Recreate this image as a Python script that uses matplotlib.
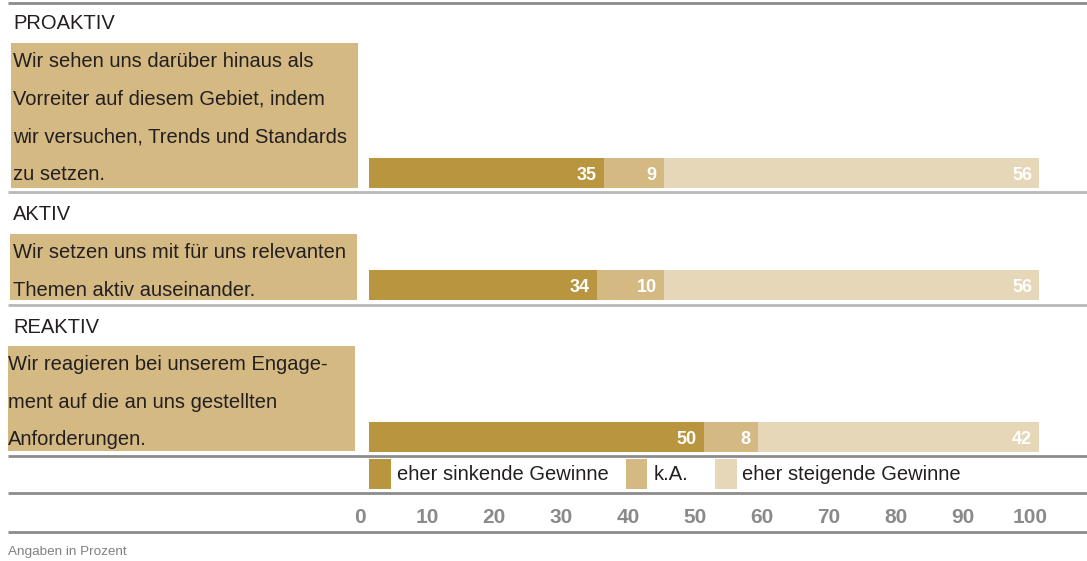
import matplotlib.pyplot as plt
from matplotlib.patches import Rectangle

plt.rcParams["font.family"] = ["Liberation Sans", "DejaVu Sans"]

gruppen = ["PROAKTIV", "AKTIV", "REAKTIV"]
aussagen = [
    ["Wir sehen uns darüber hinaus als",
     "Vorreiter auf diesem Gebiet, indem",
     "wir versuchen, Trends und Standards",
     "zu setzen."],
    ["Wir setzen uns mit für uns relevanten",
     "Themen aktiv auseinander."],
    ["Wir reagieren bei unserem Engage-",
     "ment auf die an uns gestellten",
     "Anforderungen."],
]
sinkend = [35, 34, 50]
keine_angabe = [9, 10, 8]
steigend = [56, 56, 42]
legende = ["eher sinkende Gewinne", "k.A.", "eher steigende Gewinne"]
ticks = [0, 10, 20, 30, 40, 50, 60, 70, 80, 90, 100]
fussnote = "Angaben in Prozent"

farben = ["#BA953F", "#D4B983", "#E6D7B9"]
box_farbe = "#D4B983"
text_farbe = "#231f20"

# Layout in Pixeln, y von oben gemessen
W, H = 1087, 561
label_base = [29, 220, 333]
box_x = [(11, 358), (10, 357), (8, 355)]
box_y = [(43, 188), (234, 300), (346, 451)]
text_x = [13, 13, 8]
bar_y = [173, 285, 437]
bar_h = 30
hell_linien = [192, 305]
dunkel_linien = [3, 456, 493, 532]
legende_x = [(369, 391, 397), (626, 647, 654), (715, 737, 742)]


def main():
    fig = plt.figure(figsize=(W / 100, H / 100), dpi=100)

    bg = fig.add_axes([0, 0, 1, 1])
    bg.set_xlim(0, W)
    bg.set_ylim(H, 0)
    bg.axis("off")

    ax = fig.add_axes([369 / W, 0, 670 / W, 1])
    ax.set_xlim(0, 100)
    ax.set_ylim(H, 0)
    ax.axis("off")

    # Linien
    for y in hell_linien:
        bg.plot([8, W], [y, y], color="#b8b8b8", lw=2.0, solid_capstyle="butt")
    for y in dunkel_linien:
        bg.plot([8, W], [y, y], color="#8c8c8c", lw=2.0, solid_capstyle="butt")

    # Gruppen, Textkästen
    for i, g in enumerate(gruppen):
        bg.text(13, label_base[i], g, fontsize=14.5, color=text_farbe,
                ha="left", va="baseline")
        x0, x1 = box_x[i]
        y0, y1 = box_y[i]
        bg.add_patch(Rectangle((x0, y0), x1 - x0, y1 - y0, color=box_farbe, lw=0))
        for j, zeile in enumerate(aussagen[i]):
            bg.text(text_x[i], y0 + 24 + 37.5 * j, zeile, fontsize=14.5,
                    color=text_farbe, ha="left", va="baseline")

    # gestapelte Balken
    links = [0, 0, 0]
    for werte, farbe in zip([sinkend, keine_angabe, steigend], farben):
        ax.barh(bar_y, werte, left=links, height=bar_h, color=farbe, lw=0)
        for y, l, v in zip(bar_y, links, werte):
            ax.annotate(str(v), xy=(l + v, y + 7), xytext=(-7, 0),
                        textcoords="offset pixels", ha="right", va="baseline",
                        color="white", fontweight="bold", fontsize=13)
        links = [l + v for l, v in zip(links, werte)]

    # Legende
    for (p0, p1, tx), name, farbe in zip(legende_x, legende, farben):
        bg.add_patch(Rectangle((p0, 459), p1 - p0, 30, color=farbe, lw=0))
        bg.text(tx, 480, name, fontsize=14.5, color=text_farbe,
                ha="left", va="baseline")

    # Achsenbeschriftung
    for t in ticks:
        ax.annotate(str(t), xy=(t, 523), xytext=(-9, 0),
                    textcoords="offset pixels", ha="center", va="baseline",
                    color="#8a8a8a", fontweight="bold", fontsize=15)

    bg.text(8, 555, fussnote, fontsize=9.7, color="#808080",
            ha="left", va="baseline")

    fig.savefig("out.png", dpi=100)


if __name__ == "__main__":
    main()
